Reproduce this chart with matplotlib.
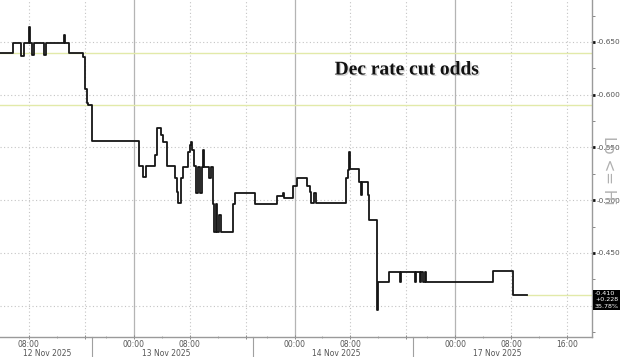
import matplotlib
matplotlib.use("Agg")
import matplotlib.pyplot as plt
import matplotlib.patheffects as pe
import matplotlib.transforms as mtransforms
from matplotlib.lines import Line2D

# ---- data -------------------------------------------------------------
# x = trading hours since 12 Nov 2025 00:00 ET, with the daily 17:00-18:00
# break and the weekend removed (so 13 Nov 00:00 = 23, 14 Nov 00:00 = 46,
# 17 Nov 00:00 = 69)
hours = [3.86, 5.72, 6.87, 7.30, 8.01, 8.15, 8.44, 8.73, 10.16, 10.37,
         13.02, 13.16, 13.73, 15.74, 16.02, 16.24, 16.45, 17.02,
         23.75, 24.32, 24.75, 26.04, 26.32, 26.90, 27.18, 27.75, 28.90,
         29.19, 29.33, 29.76, 30.05, 30.76, 31.05, 31.19, 31.33, 31.62,
         31.90, 32.26, 32.48, 32.69, 32.90, 33.05, 33.76, 33.98, 34.33,
         34.48, 34.76, 34.91, 35.19, 35.48, 37.19, 37.48, 40.34, 43.49,
         44.35, 44.49, 45.78, 46.35, 47.78, 48.21, 48.35, 48.78, 49.07,
         53.36, 53.58, 53.79, 53.93, 55.22, 55.51, 55.72, 56.51, 56.65,
         57.79, 57.94, 59.51, 61.09, 61.30, 63.23, 63.37, 63.95, 64.09,
         64.38, 64.66, 64.88, 74.39, 77.25, 79.26]
values = [-0.640, -0.649, -0.637, -0.649, -0.664, -0.649, -0.638, -0.649, -0.638, -0.649,
          -0.657, -0.649, -0.640, -0.636, -0.605, -0.592, -0.590, -0.556,
          -0.532, -0.522, -0.532, -0.543, -0.568, -0.562, -0.555, -0.532, -0.521,
          -0.508, -0.497, -0.521, -0.531, -0.546, -0.552, -0.555, -0.548, -0.532,
          -0.507, -0.531, -0.507, -0.531, -0.548, -0.531, -0.521, -0.531, -0.496,
          -0.470, -0.496, -0.470, -0.486, -0.470, -0.496, -0.507, -0.496, -0.504,
          -0.507, -0.502, -0.513, -0.521, -0.513, -0.508, -0.497, -0.507, -0.497,
          -0.521, -0.529, -0.546, -0.530, -0.517, -0.505, -0.517, -0.505, -0.481,
          -0.396, -0.422, -0.432, -0.422, -0.432, -0.422, -0.432, -0.422, -0.432,
          -0.422, -0.432, -0.422, -0.433, -0.410, -0.410]

ref_levels = [-0.640, -0.590]
last_value = -0.410
change = "+0.228"
pct_change = "35.78%"

ytick_vals = [-0.650, -0.600, -0.550, -0.500, -0.450, -0.400]
ytick_labels = ["-0.650", "-0.600", "-0.550", "-0.500", "-0.450", ""]
yminor_vals = [-0.675, -0.625, -0.575, -0.525, -0.475, -0.425, -0.375]

xtick_hours = [8, 16, 23, 31, 39, 46, 54, 62, 69, 77, 85]
xtick_clock = ["08:00", "16:00", "00:00", "08:00", "16:00", "00:00",
               "08:00", "16:00", "00:00", "08:00", "16:00"]
xtick_shown = ["08:00", "", "00:00", "08:00", "", "00:00",
               "08:00", "", "00:00", "08:00", "16:00"]
xminor_hours = [12, 19, 27, 35, 42, 50, 58, 65, 73, 81]
session_breaks = [17, 40, 63]
date_labels = ["12 Nov 2025", "13 Nov 2025", "14 Nov 2025", "17 Nov 2025"]
date_label_pos = [10.6, 27.6, 51.9, 75.0]

# ---- figure -----------------------------------------------------------
W, H = 620, 357
fig = plt.figure(figsize=(W / 100, H / 100), dpi=100)
fig.patch.set_facecolor("white")
ax = fig.add_axes([0, 20 / H, 592 / W, 337 / H])

xmin, xmax = 3.86, 88.56
ax.set_xlim(xmin, xmax)
ax.set_ylim(-0.3703, -0.6898)  # inverted: Lo <= Hi

grid_col = "#c4c4c4"
ref_col = "#e2eaa9"

# horizontal grid
for v in ytick_vals:
    ax.axhline(v, color=grid_col, lw=0.8, ls=(0, (1, 2.2)), zorder=1)
# vertical grid
for h, c in zip(xtick_hours, xtick_clock):
    if c == "00:00":
        ax.axvline(h, color="#b4b4b4", lw=0.9, zorder=1)
    else:
        ax.axvline(h, color=grid_col, lw=0.8, ls=(0, (1, 2.2)), zorder=1)

for lv in ref_levels:
    ax.axhline(lv, color=ref_col, lw=1.0, zorder=2)
ax.plot([hours[-1], xmax], [last_value, last_value], color=ref_col, lw=1.0, zorder=2)

ax.step(hours, values, where="post", color="#151515", lw=1.3, zorder=4)

# spines
for s in ["left", "top"]:
    ax.spines[s].set_visible(False)
ax.spines["right"].set_color("#9a9a9a")
ax.spines["bottom"].set_color("#9a9a9a")
ax.spines["right"].set_linewidth(1.0)
ax.spines["bottom"].set_linewidth(1.0)

# y axis on right
ax.yaxis.tick_right()
ax.set_yticks(ytick_vals)
ax.set_yticklabels(ytick_labels)
ax.set_yticks(yminor_vals, minor=True)
ax.tick_params(axis="y", which="major", direction="out", length=2, width=2,
               color="#111111", labelsize=5.3, labelcolor="#555555", pad=1.5)
ax.tick_params(axis="y", which="minor", direction="out", length=2, width=0.7,
               color="#888888")

# x axis
ax.set_xticks(xtick_hours)
ax.set_xticklabels(xtick_shown)
ax.set_xticks(xminor_hours, minor=True)
ax.tick_params(axis="x", which="major", direction="inout", length=3, width=0.7,
               color="#888888", labelsize=5.5, labelcolor="#555555", pad=0.5)
ax.tick_params(axis="x", which="minor", direction="inout", length=2, width=0.6,
               color="#999999")

xt = ax.get_xaxis_transform()
for b in session_breaks:
    ax.add_line(Line2D([b, b], [0, -0.07], transform=xt, color="#a0a0a0",
                       lw=0.8, clip_on=False))
for lbl, pos in zip(date_labels, date_label_pos):
    ax.text(pos, -0.049, lbl, transform=xt, ha="center", va="center",
            fontsize=5.5, color="#555555", clip_on=False)

# last value tag
bt = mtransforms.blended_transform_factory(ax.transAxes, ax.transData)
ax.text(1.005, -0.4138, f"{last_value:.3f}\n{change}\n{pct_change}",
        transform=bt, ha="left", va="top", fontsize=4.6, color="white",
        linespacing=1.3, clip_on=False, zorder=10,
        bbox=dict(boxstyle="square,pad=0.25", fc="black", ec="none"))

# axis label
fig.text(609 / W, 1 - 170 / H, "Lo <= Hi", rotation=-90, ha="center",
         va="center", fontsize=11, color="#b0b0b0", zorder=0)

# title
fig.text(407 / W, 1 - 70 / H, "Dec rate cut odds", ha="center", va="center",
         fontsize=14, fontweight="bold", family="Liberation Serif",
         color="#111111",
         path_effects=[pe.withSimplePatchShadow(offset=(1, -1),
                                                shadow_rgbFace="#888888",
                                                alpha=0.35)])

fig.savefig("out.png", dpi=100, facecolor="white")
